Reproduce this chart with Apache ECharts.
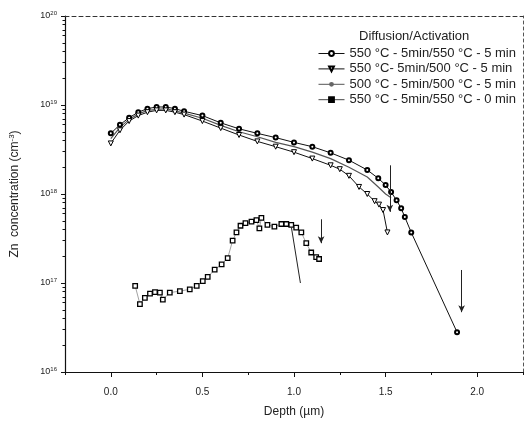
<!DOCTYPE html>
<html><head><meta charset="utf-8">
<script src="https://cdn.jsdelivr.net/npm/echarts@6/dist/echarts.min.js"></script>
<style>html,body{margin:0;padding:0;background:#fff}#c{width:526px;height:424px}</style>
</head><body><div id="c"></div>
<script>
// ---- data ----
const seriesNames = [
  '550 \u00B0C - 5min/550 \u00B0C - 5 min',
  '550 \u00B0C- 5min/500 \u00B0C - 5 min',
  '500 \u00B0C - 5min/500 \u00B0C - 5 min',
  '550 \u00B0C - 5min/550 \u00B0C - 0 min'
];
const depthA = [0.0,0.05,0.1,0.15,0.2,0.25,0.3,0.35,0.4,0.5,0.6,0.7,0.8,0.9,1.0,1.1,1.2,1.3,1.4,1.46,1.5,1.53,1.56,1.585,1.605,1.64,1.89];
const concA  = [4.8e18,6.0e18,7.2e18,8.3e18,9.1e18,9.5e18,9.5e18,9.1e18,8.5e18,7.6e18,6.3e18,5.4e18,4.8e18,4.3e18,3.8e18,3.4e18,2.9e18,2.4e18,1.86e18,1.5e18,1.26e18,1.05e18,8.5e17,6.9e17,5.5e17,3.7e17,2.8e16];
const depthB = [0.0,0.05,0.1,0.15,0.2,0.25,0.3,0.35,0.4,0.5,0.6,0.7,0.8,0.9,1.0,1.1,1.2,1.25,1.3,1.355,1.4,1.44,1.464,1.486,1.51];
const concB  = [3.7e18,5.2e18,6.6e18,7.6e18,8.3e18,8.7e18,8.7e18,8.3e18,7.8e18,6.6e18,5.5e18,4.6e18,3.9e18,3.4e18,2.95e18,2.5e18,2.1e18,1.9e18,1.6e18,1.2e18,1.0e18,8.3e17,7.6e17,6.6e17,3.7e17];
const depthC = [0.0,0.05,0.1,0.15,0.2,0.3,0.4,0.5,0.6,0.7,0.8,0.9,1.0,1.1,1.2,1.3,1.4,1.46,1.5,1.53];
const concC  = [4.2e18,5.6e18,6.9e18,7.9e18,8.7e18,9.1e18,8.1e18,7.1e18,5.9e18,5.0e18,4.4e18,3.8e18,3.4e18,2.95e18,2.5e18,2.0e18,1.55e18,1.2e18,1.0e18,9.1e17];
const depthD = [0.133,0.159,0.186,0.214,0.241,0.268,0.284,0.322,0.377,0.431,0.469,0.502,0.529,0.567,0.605,0.638,0.665,0.686,0.708,0.735,0.768,0.795,0.811,0.822,0.855,0.893,0.931,0.958,0.985,1.012,1.04,1.067,1.094,1.121,1.137];
const concD  = [9.3e16,5.8e16,6.8e16,7.6e16,7.9e16,7.8e16,6.5e16,7.8e16,8.1e16,8.5e16,9.3e16,1.05e17,1.17e17,1.41e17,1.62e17,1.9e17,3.0e17,3.7e17,4.4e17,4.7e17,4.9e17,5.1e17,4.1e17,5.4e17,4.5e17,4.3e17,4.6e17,4.6e17,4.5e17,4.2e17,3.7e17,2.8e17,2.2e17,1.95e17,1.86e17];
// annotation arrows / pointer lines: [x1, y1, x2, y2] in data units
const arrows = [[1.523,2.1e18,1.523,6.3e17],[1.148,5.2e17,1.148,2.8e17],[1.915,1.4e17,1.915,4.7e16]];
const pointerLines = [[0.986,4.2e17,1.035,1.0e17]];
const xTicks = [0,0.5,1,1.5,2];
const xMinorTicks = [-0.25,0.25,0.75,1.25,1.75,2.25];
const legendTitle = 'Diffusion/Activation';

const zip = (xs, ys) => xs.map((x, i) => [x, ys[i]]);
const FONT = 'Liberation Sans';

const arrowMarks = arrows.map(a => [
  {coord:[a[0],a[1]], symbol:'none'},
  {coord:[a[2],a[3]], symbol:'arrow', symbolSize:[5,7]}
]);
const pointerMarks = pointerLines.map(a => [
  {coord:[a[0],a[1]], symbol:'none'},
  {coord:[a[2],a[3]], symbol:'none'}
]);

const chart = echarts.init(document.getElementById('c'), null, {renderer:'canvas'});
chart.setOption({
  animation:false,
  backgroundColor:'#fff',
  textStyle:{fontFamily:FONT},
  grid:{left:63,right:3,top:16,bottom:52,containLabel:false},
  title:{text:legendTitle,left:354,top:25,textStyle:{fontFamily:FONT,fontSize:13,fontWeight:'normal',color:'#222'}},
  legend:{
    orient:'vertical',left:313,top:42,itemWidth:26,itemHeight:6,itemGap:2.4,
    textStyle:{fontFamily:FONT,fontSize:13,color:'#222'},
    lineStyle:{width:1},
    symbolRotate:'inherit',
    data:[
      {name:seriesNames[0]},
      {name:seriesNames[1]},
      {name:seriesNames[2]},
      {name:seriesNames[3],itemStyle:{color:'#000',borderColor:'#000'}}
    ]
  },
  xAxis:[
    {type:'value',min:-0.25,max:2.25,position:'bottom',
     name:'Depth (\u00B5m)',nameLocation:'middle',nameGap:34,
     nameTextStyle:{fontFamily:FONT,fontSize:12,color:'#222'},
     axisLine:{show:true,onZero:false,lineStyle:{color:'#111',width:1.2}},
     axisTick:{show:true,length:5,inside:false,customValues:xTicks,lineStyle:{color:'#111'}},
     axisLabel:{customValues:xTicks,fontSize:10,color:'#222',margin:15,formatter:v=>v.toFixed(1)},
     splitLine:{show:false}},
    {type:'value',min:-0.25,max:2.25,position:'bottom',
     axisLine:{show:false,onZero:false},
     axisTick:{show:true,length:3,customValues:xMinorTicks,lineStyle:{color:'#111'}},
     axisLabel:{show:false},splitLine:{show:false}},
    {type:'value',min:-0.25,max:2.25,position:'top',
     axisLine:{show:true,onZero:false,lineStyle:{color:'#333',width:1,type:[4,3]}},
     axisTick:{show:false},axisLabel:{show:false},splitLine:{show:false}}
  ],
  yAxis:[
    {type:'log',logBase:10,min:1e16,max:1e20,position:'left',
     name:'{a|Zn  concentration (cm}{s|-3}{a|)}',nameLocation:'middle',nameGap:43,nameRotate:90,
     nameTextStyle:{rich:{a:{fontFamily:FONT,fontSize:12,color:'#222'},s:{fontFamily:FONT,fontSize:8,color:'#222',verticalAlign:'bottom',padding:[0,0,6,0]}}},
     axisLine:{show:true,onZero:false,lineStyle:{color:'#111',width:1.2}},
     axisTick:{show:true,length:4,lineStyle:{color:'#111'}},
     minorTick:{show:true,splitNumber:9,length:2.5,lineStyle:{color:'#111'}},
     axisLabel:{fontSize:9,color:'#222',margin:8,
       formatter:v=>'{b|10}{e|'+Math.round(Math.log10(v))+'}',
       rich:{b:{fontFamily:FONT,fontSize:9,color:'#222'},e:{fontFamily:FONT,fontSize:6,color:'#222',verticalAlign:'bottom',padding:[0,0,6,0]}}},
     splitLine:{show:false}},
    {type:'log',logBase:10,min:1e16,max:1e20,position:'right',
     axisLine:{show:true,onZero:false,lineStyle:{color:'#555',width:1,type:[3,3]}},
     axisTick:{show:false},axisLabel:{show:false},splitLine:{show:false}}
  ],
  series:[
    {name:seriesNames[0],type:'line',data:zip(depthA,concA),
     symbol:'emptyCircle',symbolSize:4,showAllSymbol:true,
     itemStyle:{color:'#000',borderWidth:1},lineStyle:{color:'#111',width:1},
     markLine:{silent:true,symbol:['none','arrow'],label:{show:false},lineStyle:{color:'#222',width:1,type:'solid'},
       data:arrowMarks.concat(pointerMarks)}},
    {name:seriesNames[1],type:'line',data:zip(depthB,concB),
     symbol:'triangle',symbolRotate:180,symbolSize:5,showAllSymbol:true,
     itemStyle:{color:'#fff',borderColor:'#000',borderWidth:1},lineStyle:{color:'#111',width:1}},
    {name:seriesNames[2],type:'line',data:zip(depthC,concC),
     showSymbol:false,symbol:'none',
     itemStyle:{color:'#666'},lineStyle:{color:'#555',width:1.2}},
    {name:seriesNames[3],type:'line',data:zip(depthD,concD),
     symbol:'rect',symbolSize:4.5,showAllSymbol:true,
     itemStyle:{color:'#fff',borderColor:'#000',borderWidth:1.3},lineStyle:{color:'#444',width:0.5}}
  ]
});
</script>
</body></html>
